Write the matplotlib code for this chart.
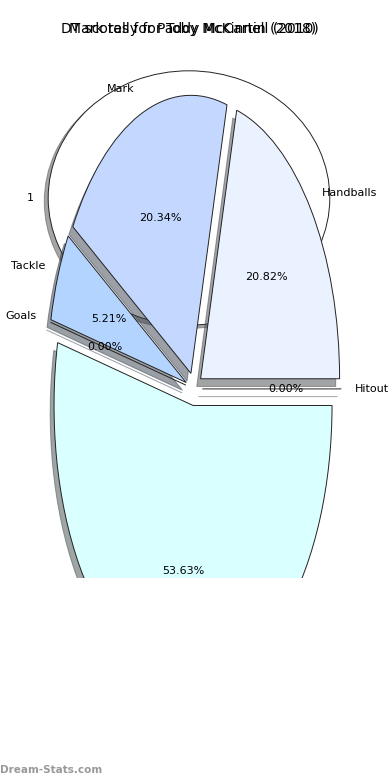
import matplotlib
matplotlib.use("Agg")
import matplotlib.pyplot as plt

# first (blank) pie
blank_vals = [1]
blank_labels = ["1"]
blank_title = "DT scores for Paddy McCartin (2018)"

# stat breakdown pie
stat_labels = ["Handballs", "Mark", "Tackle", "Goals", "Kicks", "Hitout"]
stat_vals = [20.82, 20.34, 5.21, 0.0, 53.63, 0.0]
stat_colors = ["#EBF2FF", "#C4D8FF", "#B3D4FF", "#A8C8F8", "#D9FFFF", "#CCE0FF"]
stat_title = "Mark tally for Toby McKinnell (2010)"

fig = plt.figure(figsize=(3.9, 7.8), dpi=100)

ax1 = fig.add_axes([0.0333, 0.5423, 0.9026, 0.4077])
ax1.pie(blank_vals, labels=blank_labels, colors=["white"], shadow=True,
        wedgeprops={"edgecolor": "#222222", "linewidth": 0.7},
        textprops={"fontsize": 8})
ax1.set_aspect("auto")
ax1.set_xlim(-1.25, 1.25)
ax1.set_ylim(-1.25, 1.25)
ax1.set_title(blank_title, fontsize=10, pad=4.2)

ax2 = fig.add_axes([0.0519, 0.259, 0.891, 0.688])
wedges, texts, autotexts = ax2.pie(
    stat_vals, labels=stat_labels, colors=stat_colors, explode=[0.06] * len(stat_vals),
    autopct="%1.2f%%", shadow=True, startangle=0,
    wedgeprops={"edgecolor": "#222222", "linewidth": 0.7},
    textprops={"fontsize": 8})
ax2.set_aspect("auto")
ax2.set_xlim(-1.25, 1.25)
ax2.set_ylim(-0.68, 1.25)
ax2.set_title(stat_title, fontsize=10)
# the lower part of the pie is cut off at the axes bottom
for p in ax2.patches:
    p.set_clip_on(True)
texts[stat_labels.index("Kicks")].set_clip_on(True)

fig.text(0.0, 0.013, "Dream-Stats.com", fontsize=7.5, color="#999999", fontweight="bold",
         ha="left", va="center")

fig.savefig("out.png", dpi=100)
